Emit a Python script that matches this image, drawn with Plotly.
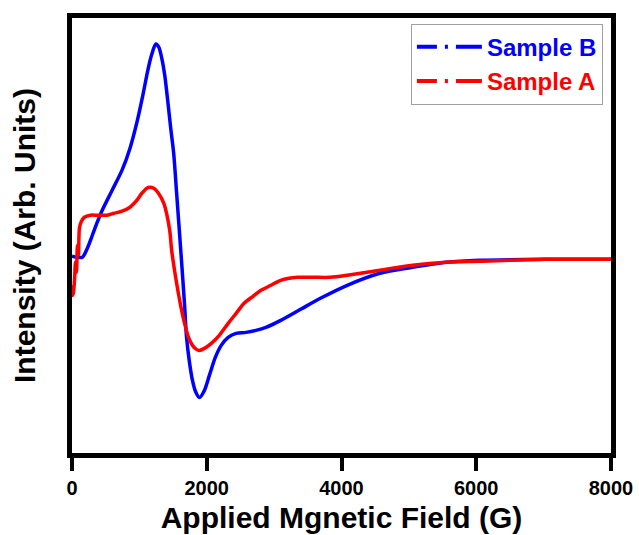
import plotly.graph_objects as go

# Sample B (blue): applied field (G) and intensity (arb. units)
field_b = [0, 81, 155, 228, 302, 375, 449, 596, 743, 861,
           964, 1052, 1126, 1185, 1244, 1288, 1332, 1376, 1420, 1465,
           1509, 1553, 1582, 1627, 1671, 1700, 1744, 1788, 1833, 1892,
           1965, 2039, 2127, 2215, 2318, 2436, 2583, 2730, 2878, 3098,
           3393, 3687, 4085, 4570, 5056, 5557, 6042, 7028, 8000]
int_b = [2, 1, 1, 10, 23, 36, 48, 68, 88, 110,
         136, 163, 188, 204, 214, 211, 200, 183, 158, 130,
         105, 65, 38, -4, -47, -79, -104, -122, -133, -139,
         -132, -117, -99, -87, -79, -75, -74, -72, -69, -62,
         -51, -40, -27, -15, -9, -4, -2, -1, -1]

# Sample A (red)
field_a = [0, 7, 22, 37, 52, 66, 81, 96, 110, 140,
           184, 272, 375, 523, 626, 743, 861, 964, 1038, 1111,
           1156, 1214, 1273, 1362, 1450, 1479, 1553, 1612, 1671, 1730,
           1788, 1847, 1892, 1965, 2068, 2186, 2318, 2436, 2554, 2686,
           2804, 2951, 3098, 3348, 3584, 3834, 4085, 4570, 5056, 5557,
           6042, 7028, 8000]
int_a = [-27, -37, -34, -22, -4, -14, 13, 3, 30, 37,
         41, 43, 43, 43, 45, 47, 51, 58, 65, 70,
         71, 70, 66, 55, 28, 8, -25, -47, -65, -79,
         -87, -91, -92, -90, -85, -77, -65, -55, -45, -38,
         -32, -27, -22, -19, -19, -19, -17, -12, -7, -4,
         -3, -1, -1]

x_ticks = [0, 2000, 4000, 6000, 8000]

FONT = "Liberation Sans, Arial, sans-serif"
BLUE = "#0000ff"
RED = "#ff0000"
LEG_DASH = "20px,8px,3px,8px,30px"

fig = go.Figure()
fig.add_trace(go.Scatter(x=field_b, y=int_b, mode="lines",
                         line=dict(color=BLUE, width=3.5, shape="spline", smoothing=0.8),
                         showlegend=False))
fig.add_trace(go.Scatter(x=field_a, y=int_a, mode="lines",
                         line=dict(color=RED, width=3.5, shape="spline", smoothing=0.8),
                         showlegend=False))
fig.add_trace(go.Scatter(x=[None], y=[None], mode="lines",
                         name=f"<span style='color:{BLUE}'>Sample B</span>",
                         line=dict(color=BLUE, width=4, dash=LEG_DASH)))
fig.add_trace(go.Scatter(x=[None], y=[None], mode="lines",
                         name=f"<span style='color:{RED}'>Sample A</span>",
                         line=dict(color=RED, width=4, dash=LEG_DASH)))

fig.update_layout(
    width=639, height=535,
    margin=dict(l=72, r=28, t=18, b=82, autoexpand=False),
    plot_bgcolor="white", paper_bgcolor="white",
    font=dict(family=FONT, color="black"),
    legend=dict(x=0.985, y=0.987, xanchor="right", yanchor="top",
                bordercolor="#a0a0a0", borderwidth=1, bgcolor="white",
                font=dict(size=24, family=FONT, weight="bold"),
                itemwidth=65, tracegroupgap=0),
    xaxis=dict(range=[0, 8000], tickvals=x_ticks, showline=True, mirror=True,
               linecolor="black", linewidth=5, ticks="outside", ticklen=13, tickwidth=4,
               tickcolor="black", showgrid=False, zeroline=False, automargin=False,
               tickfont=dict(size=20, family=FONT, weight="bold"),
               title=dict(text="Applied Mgnetic Field (G)", standoff=10,
                          font=dict(size=30, family=FONT, weight="bold"))),
    yaxis=dict(range=[-194.5, 240], showline=True, mirror=True, linecolor="black",
               linewidth=5, showticklabels=False, ticks="", showgrid=False, zeroline=False,
               automargin=False,
               title=dict(text="Intensity (Arb. Units)", standoff=24,
                          font=dict(size=30, family=FONT, weight="bold"))),
)

fig.write_html("out.html")
